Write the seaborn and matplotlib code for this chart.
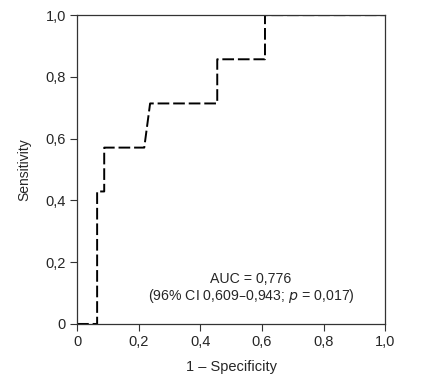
import matplotlib
matplotlib.use("Agg")
import matplotlib.pyplot as plt
import seaborn as sns
import pandas as pd

# ROC curve points
fpr = [0.0, 0.065, 0.065, 0.088, 0.088, 0.218, 0.237, 0.455, 0.455, 0.61, 0.61, 1.0]
tpr = [0.0, 0.0, 0.429, 0.429, 0.571, 0.571, 0.714, 0.714, 0.857, 0.857, 1.0, 1.0]
ticks = [0, 0.2, 0.4, 0.6, 0.8, 1.0]
tick_labels = ["0", "0,2", "0,4", "0,6", "0,8", "1,0"]

df = pd.DataFrame({"fpr": fpr, "tpr": tpr})

sns.set_style("white")
plt.rcParams["font.family"] = ["Liberation Sans", "DejaVu Sans"]

fig = plt.figure(figsize=(4.26, 3.78), dpi=100)
ax = fig.add_axes([0.181, 0.143, 0.723, 0.817])

sns.lineplot(data=df, x="fpr", y="tpr", sort=False, estimator=None,
             color="black", linewidth=1.4, ax=ax)
ax.lines[0].set_dashes([6, 2])

ax.set_xlim(0, 1)
ax.set_ylim(0, 1)
ax.set_xticks(ticks)
ax.set_xticklabels(tick_labels)
ax.set_yticks(ticks)
ax.set_yticklabels(tick_labels)
ax.tick_params(direction="out", length=5, width=0.8, color="#333333",
               labelsize=10.5, pad=3, left=True, bottom=True)
for s in ax.spines.values():
    s.set_color("#333333")
    s.set_linewidth(0.9)

ax.set_xlabel("1 – Specificity", fontsize=10.5, labelpad=8)
ax.set_ylabel("Sensitivity", fontsize=10, labelpad=10)

ax.text(0.565, 0.146, "AUC = 0,776", ha="center", va="center", fontsize=10.2)
ax.text(0.565, 0.091, "(96% CI 0,609–0,943; $\\it{p}$ = 0,017)", ha="center",
        va="center", fontsize=10.2)

fig.savefig("out.png", dpi=100)
